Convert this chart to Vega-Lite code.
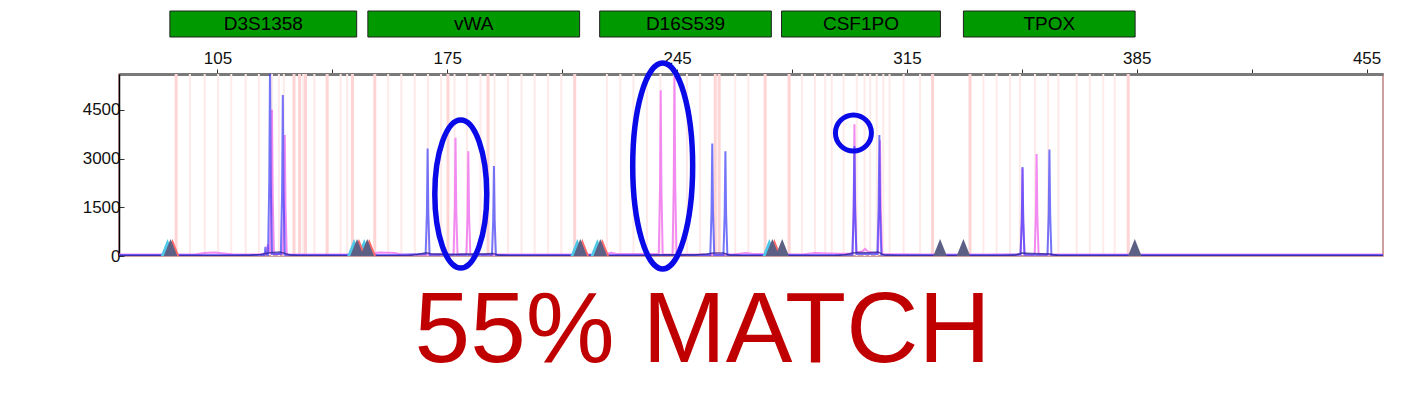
{
  "$schema": "https://vega.github.io/schema/vega-lite/v6.json",
  "padding": {"left": 81, "top": 10, "right": 0, "bottom": 0},
  "autosize": {"type": "pad"},
  "config": {"font": "Liberation Sans", "view": {"stroke": null}},
  "title": {"text": "55% MATCH", "orient": "bottom", "anchor": "middle", "fontSize": 100, "fontWeight": "normal", "color": "#c00000", "font": "Liberation Sans", "offset": 2, "dx": -30},
  "spacing": 10,
  "resolve": {"scale": {"x": "independent"}},
  "datasets": {
    "loci": [
      {"locus": "D3S1358", "start": 90.5, "end": 147.4, "mid": 118.95},
      {"locus": "vWA", "start": 150.8, "end": 215.3, "mid": 183.05},
      {"locus": "D16S539", "start": 221.4, "end": 273.7, "mid": 247.55},
      {"locus": "CSF1PO", "start": 276.8, "end": 325.2, "mid": 301.0},
      {"locus": "TPOX", "start": 332.2, "end": 384.5, "mid": 358.35}
    ],
    "bins": [
      {"bp": 92.4, "kind": "edge"}, {"bp": 96.6, "kind": "bin"}, {"bp": 101.1, "kind": "bin"}, {"bp": 105.2, "kind": "bin"}, {"bp": 109.2, "kind": "bin"}, {"bp": 113.6, "kind": "bin"}, {"bp": 117.6, "kind": "bin"}, {"bp": 121.6, "kind": "bin"}, {"bp": 123.7, "kind": "bin"}, {"bp": 125.2, "kind": "bin"}, {"bp": 128.3, "kind": "edge"}, {"bp": 130.0, "kind": "edge"}, {"bp": 131.1, "kind": "bin"}, {"bp": 131.8, "kind": "edge"}, {"bp": 134.5, "kind": "bin"}, {"bp": 138.4, "kind": "edge"}, {"bp": 142.5, "kind": "bin"}, {"bp": 144.5, "kind": "bin"}, {"bp": 146.1, "kind": "edge"},
      {"bp": 152.9, "kind": "edge"}, {"bp": 157.0, "kind": "bin"}, {"bp": 161.0, "kind": "bin"}, {"bp": 165.1, "kind": "bin"}, {"bp": 169.1, "kind": "bin"}, {"bp": 173.1, "kind": "bin"}, {"bp": 175.2, "kind": "edge"}, {"bp": 177.2, "kind": "bin"}, {"bp": 181.0, "kind": "bin"}, {"bp": 185.1, "kind": "bin"}, {"bp": 187.4, "kind": "edge"}, {"bp": 189.4, "kind": "bin"}, {"bp": 193.5, "kind": "bin"}, {"bp": 197.6, "kind": "bin"}, {"bp": 201.6, "kind": "bin"}, {"bp": 205.7, "kind": "bin"}, {"bp": 209.7, "kind": "bin"}, {"bp": 213.8, "kind": "edge"},
      {"bp": 223.6, "kind": "bin"}, {"bp": 227.7, "kind": "bin"}, {"bp": 231.7, "kind": "bin"}, {"bp": 235.8, "kind": "bin"}, {"bp": 239.9, "kind": "bin"}, {"bp": 244.0, "kind": "bin"}, {"bp": 248.0, "kind": "bin"}, {"bp": 252.0, "kind": "bin"}, {"bp": 256.6, "kind": "edge"}, {"bp": 257.8, "kind": "edge"}, {"bp": 262.7, "kind": "bin"}, {"bp": 266.7, "kind": "bin"}, {"bp": 271.8, "kind": "edge"},
      {"bp": 279.1, "kind": "edge"}, {"bp": 283.0, "kind": "bin"}, {"bp": 287.0, "kind": "bin"}, {"bp": 290.1, "kind": "bin"}, {"bp": 292.1, "kind": "bin"}, {"bp": 295.7, "kind": "bin"}, {"bp": 299.7, "kind": "bin"}, {"bp": 302.1, "kind": "bin"}, {"bp": 303.8, "kind": "bin"}, {"bp": 305.8, "kind": "bin"}, {"bp": 307.8, "kind": "bin"}, {"bp": 309.7, "kind": "bin"}, {"bp": 314.0, "kind": "bin"}, {"bp": 319.0, "kind": "bin"}, {"bp": 322.8, "kind": "edge"},
      {"bp": 334.2, "kind": "edge"}, {"bp": 338.3, "kind": "bin"}, {"bp": 342.3, "kind": "bin"}, {"bp": 346.4, "kind": "bin"}, {"bp": 349.4, "kind": "bin"}, {"bp": 354.0, "kind": "bin"}, {"bp": 358.0, "kind": "bin"}, {"bp": 361.1, "kind": "bin"}, {"bp": 366.7, "kind": "bin"}, {"bp": 370.7, "kind": "bin"}, {"bp": 374.8, "kind": "bin"}, {"bp": 378.3, "kind": "bin"}, {"bp": 382.4, "kind": "edge"}
    ],
    "markers": [
      {"bp": 90.7, "dye": "multi"}, {"bp": 147.5, "dye": "multi"}, {"bp": 150.6, "dye": "multi"}, {"bp": 215.5, "dye": "multi"}, {"bp": 221.6, "dye": "multi"}, {"bp": 274.0, "dye": "multi"},
      {"bp": 277.0, "dye": "single"}, {"bp": 325.1, "dye": "single"}, {"bp": 332.2, "dye": "single"}, {"bp": 384.4, "dye": "single"}
    ],
    "pink": [
      {"bp": 75, "v": 50}, {"bp": 98, "v": 50}, {"bp": 101, "v": 90}, {"bp": 104, "v": 110}, {"bp": 107, "v": 80}, {"bp": 110, "v": 50}, {"bp": 117, "v": 50},
      {"bp": 119.8, "v": 60}, {"bp": 120.1, "v": 200}, {"bp": 120.3, "v": 350}, {"bp": 120.55, "v": 150}, {"bp": 121.0, "v": 100},
      {"bp": 121.38, "v": 1800}, {"bp": 121.6, "v": 4500}, {"bp": 121.82, "v": 1800}, {"bp": 122.2, "v": 60},
      {"bp": 124.9, "v": 60}, {"bp": 125.28, "v": 1488}, {"bp": 125.5, "v": 3720}, {"bp": 125.72, "v": 1488}, {"bp": 126.1, "v": 50},
      {"bp": 145, "v": 50}, {"bp": 152, "v": 60}, {"bp": 154, "v": 110}, {"bp": 157, "v": 100}, {"bp": 159, "v": 90}, {"bp": 161, "v": 50},
      {"bp": 176.9, "v": 50}, {"bp": 177.28, "v": 1456}, {"bp": 177.5, "v": 3640}, {"bp": 177.72, "v": 1456}, {"bp": 178.1, "v": 50},
      {"bp": 180.8, "v": 50}, {"bp": 181.18, "v": 1288}, {"bp": 181.4, "v": 3220}, {"bp": 181.62, "v": 1288}, {"bp": 182.0, "v": 50},
      {"bp": 222, "v": 50}, {"bp": 225, "v": 100}, {"bp": 226.5, "v": 60}, {"bp": 236, "v": 60},
      {"bp": 239.4, "v": 60}, {"bp": 239.78, "v": 2040}, {"bp": 240.0, "v": 5100}, {"bp": 240.22, "v": 2040}, {"bp": 240.6, "v": 50},
      {"bp": 243.6, "v": 50}, {"bp": 243.98, "v": 2216}, {"bp": 244.2, "v": 5540}, {"bp": 244.42, "v": 2216}, {"bp": 244.8, "v": 50},
      {"bp": 262, "v": 50}, {"bp": 266, "v": 90}, {"bp": 268, "v": 60}, {"bp": 283, "v": 50}, {"bp": 287, "v": 90}, {"bp": 291, "v": 80}, {"bp": 295, "v": 70},
      {"bp": 298.4, "v": 70}, {"bp": 298.78, "v": 1620}, {"bp": 299.0, "v": 4050}, {"bp": 299.22, "v": 1620}, {"bp": 299.6, "v": 100},
      {"bp": 301.5, "v": 150}, {"bp": 302.3, "v": 220}, {"bp": 303.2, "v": 120},
      {"bp": 306.2, "v": 80}, {"bp": 306.58, "v": 1424}, {"bp": 306.8, "v": 3560}, {"bp": 307.02, "v": 1424}, {"bp": 307.4, "v": 60},
      {"bp": 320, "v": 50},
      {"bp": 349.6, "v": 50}, {"bp": 349.98, "v": 1080}, {"bp": 350.2, "v": 2700}, {"bp": 350.42, "v": 1080}, {"bp": 350.8, "v": 50},
      {"bp": 353.9, "v": 50}, {"bp": 354.28, "v": 1256}, {"bp": 354.5, "v": 3140}, {"bp": 354.72, "v": 1256}, {"bp": 355.1, "v": 50},
      {"bp": 460, "v": 50}
    ],
    "blue": [
      {"bp": 75, "v": 30}, {"bp": 119.2, "v": 30}, {"bp": 119.45, "v": 120}, {"bp": 119.6, "v": 280}, {"bp": 119.75, "v": 120}, {"bp": 120.0, "v": 40},
      {"bp": 120.4, "v": 40}, {"bp": 120.78, "v": 2360}, {"bp": 121.0, "v": 5900}, {"bp": 121.22, "v": 2360}, {"bp": 121.6, "v": 60},
      {"bp": 124.3, "v": 60}, {"bp": 124.68, "v": 1980}, {"bp": 124.9, "v": 4950}, {"bp": 125.12, "v": 1980}, {"bp": 125.5, "v": 40},
      {"bp": 130, "v": 30}, {"bp": 160, "v": 30},
      {"bp": 168.4, "v": 60}, {"bp": 168.78, "v": 1324}, {"bp": 169.0, "v": 3310}, {"bp": 169.22, "v": 1324}, {"bp": 169.6, "v": 40},
      {"bp": 188.6, "v": 40}, {"bp": 188.98, "v": 1108}, {"bp": 189.2, "v": 2770}, {"bp": 189.42, "v": 1108}, {"bp": 189.8, "v": 30},
      {"bp": 200, "v": 30}, {"bp": 250, "v": 30},
      {"bp": 255.1, "v": 30}, {"bp": 255.48, "v": 1384}, {"bp": 255.7, "v": 3460}, {"bp": 255.92, "v": 1384}, {"bp": 256.3, "v": 30},
      {"bp": 259.1, "v": 30}, {"bp": 259.48, "v": 1288}, {"bp": 259.7, "v": 3220}, {"bp": 259.92, "v": 1288}, {"bp": 260.3, "v": 30},
      {"bp": 290, "v": 30},
      {"bp": 298.4, "v": 40}, {"bp": 298.78, "v": 1354}, {"bp": 299.0, "v": 3385}, {"bp": 299.22, "v": 1354}, {"bp": 299.6, "v": 60},
      {"bp": 306.0, "v": 60}, {"bp": 306.38, "v": 1488}, {"bp": 306.6, "v": 3720}, {"bp": 306.82, "v": 1488}, {"bp": 307.2, "v": 40},
      {"bp": 340, "v": 30},
      {"bp": 349.6, "v": 40}, {"bp": 349.98, "v": 1096}, {"bp": 350.2, "v": 2740}, {"bp": 350.42, "v": 1096}, {"bp": 350.8, "v": 40},
      {"bp": 357.8, "v": 40}, {"bp": 358.18, "v": 1312}, {"bp": 358.4, "v": 3280}, {"bp": 358.62, "v": 1312}, {"bp": 359.0, "v": 30},
      {"bp": 460, "v": 30}
    ],
    "navy": [
      {"bp": 75, "v": 10}, {"bp": 110, "v": 10}, {"bp": 115, "v": 25}, {"bp": 118, "v": 50}, {"bp": 119.6, "v": 80}, {"bp": 121, "v": 100}, {"bp": 124, "v": 120}, {"bp": 125.6, "v": 80}, {"bp": 127, "v": 30}, {"bp": 130, "v": 10},
      {"bp": 163, "v": 10}, {"bp": 166, "v": 50}, {"bp": 168.5, "v": 100}, {"bp": 170, "v": 70}, {"bp": 176, "v": 50}, {"bp": 181, "v": 60}, {"bp": 186, "v": 60}, {"bp": 188.8, "v": 80}, {"bp": 190.5, "v": 30}, {"bp": 194, "v": 10},
      {"bp": 235, "v": 10}, {"bp": 238, "v": 30}, {"bp": 243, "v": 40}, {"bp": 250, "v": 30}, {"bp": 254, "v": 60}, {"bp": 256, "v": 90}, {"bp": 259, "v": 90}, {"bp": 261, "v": 30}, {"bp": 265, "v": 10},
      {"bp": 293, "v": 10}, {"bp": 296, "v": 40}, {"bp": 298.6, "v": 90}, {"bp": 300, "v": 110}, {"bp": 303, "v": 100}, {"bp": 306.2, "v": 120}, {"bp": 308, "v": 30}, {"bp": 312, "v": 10},
      {"bp": 345, "v": 10}, {"bp": 348, "v": 30}, {"bp": 350, "v": 90}, {"bp": 353, "v": 80}, {"bp": 356, "v": 70}, {"bp": 358.5, "v": 60}, {"bp": 361, "v": 15}, {"bp": 365, "v": 10}, {"bp": 460, "v": 10}
    ]
  },
  "vconcat": [
    {
      "width": 1264,
      "height": 26,
      "data": {"name": "loci"},
      "layer": [
        {
          "mark": {"type": "rect", "fill": "#009900", "stroke": "#222222", "strokeWidth": 1},
          "encoding": {
            "x": {"field": "start", "type": "quantitative", "scale": {"domain": [75, 460], "nice": false, "zero": false}, "axis": null},
            "x2": {"field": "end"}
          }
        },
        {
          "mark": {"type": "text", "fontSize": 19, "color": "#000000", "font": "Liberation Sans"},
          "encoding": {
            "x": {"field": "mid", "type": "quantitative", "scale": {"domain": [75, 460], "nice": false, "zero": false}, "axis": null},
            "text": {"field": "locus"}
          }
        }
      ]
    },
    {
      "width": 1264,
      "height": 182,
      "view": {"stroke": "#c08080", "strokeWidth": 1.5},
      "layer": [
        {
          "data": {"name": "bins"},
          "mark": {"type": "rule"},
          "encoding": {
            "x": {"field": "bp", "type": "quantitative", "scale": {"domain": [75, 460], "nice": false, "zero": false},
              "axis": {"orient": "top", "values": [105, 140, 175, 210, 245, 280, 315, 350, 385, 420, 455], "labelExpr": "datum.value % 70 == 35 ? datum.label : ''", "title": null, "grid": false, "domainColor": "#7a7a7a", "domainWidth": 3, "tickColor": "#333333", "tickSize": 5, "labelFontSize": 17, "labelPadding": 2, "labelColor": "#111111", "labelFont": "Liberation Sans", "labelFlush": false}},
            "color": {"field": "kind", "type": "nominal", "scale": {"domain": ["bin", "edge"], "range": ["#ffeaea", "#ffd4d4"]}, "legend": null},
            "size": {"field": "kind", "type": "nominal", "scale": {"domain": ["bin", "edge"], "range": [2, 3]}, "legend": null}
          }
        },
        {
          "data": {"name": "pink"},
          "mark": {"type": "line", "color": "#f078f0", "strokeWidth": 2, "opacity": 0.85, "clip": true},
          "encoding": {
            "x": {"field": "bp", "type": "quantitative"},
            "y": {"field": "v", "type": "quantitative", "scale": {"domain": [0, 5600], "nice": false, "zero": true},
              "axis": {"values": [0, 750, 1500, 2250, 3000, 3750, 4500, 5250], "labelExpr": "datum.value % 1500 == 0 ? datum.label : ''", "format": "d", "title": null, "grid": false, "domainColor": "#000000", "domainWidth": 1.5, "tickColor": "#333333", "tickSize": -5, "labelFontSize": 17, "labelPadding": 4, "labelColor": "#111111", "labelFont": "Liberation Sans"}}
          }
        },
        {
          "data": {"name": "blue"},
          "mark": {"type": "line", "color": "#4040f8", "strokeWidth": 2, "opacity": 0.72, "clip": true},
          "encoding": {
            "x": {"field": "bp", "type": "quantitative"},
            "y": {"field": "v", "type": "quantitative"}
          }
        },
        {
          "data": {"name": "navy"},
          "mark": {"type": "line", "color": "#2a2090", "strokeWidth": 1.5, "opacity": 0.75, "clip": true},
          "encoding": {
            "x": {"field": "bp", "type": "quantitative"},
            "y": {"field": "v", "type": "quantitative"}
          }
        },
        {
          "data": {"name": "markers"},
          "transform": [{"filter": "datum.dye == 'multi'"}],
          "mark": {"type": "point", "shape": "M-0.8,0L0,-2L0.8,0Z", "size": 289, "filled": true, "fill": "#4fc8e8", "opacity": 1, "strokeWidth": 0, "xOffset": -3},
          "encoding": {"x": {"field": "bp", "type": "quantitative"}, "y": {"datum": 0}}
        },
        {
          "data": {"name": "markers"},
          "transform": [{"filter": "datum.dye == 'multi'"}],
          "mark": {"type": "point", "shape": "M-0.8,0L0,-2L0.8,0Z", "size": 289, "filled": true, "fill": "#ff6b6b", "opacity": 1, "strokeWidth": 0, "xOffset": 2},
          "encoding": {"x": {"field": "bp", "type": "quantitative"}, "y": {"datum": 0}}
        },
        {
          "data": {"name": "markers"},
          "mark": {"type": "point", "shape": "M-0.8,0L0,-2L0.8,0Z", "size": 289, "filled": true, "fill": "#5b6084", "opacity": 1, "strokeWidth": 0},
          "encoding": {"x": {"field": "bp", "type": "quantitative"}, "y": {"datum": 0}}
        },
        {
          "mark": {"type": "rule", "color": "#ff9a9a", "strokeWidth": 1.5},
          "encoding": {"y": {"datum": 60}}
        },
        {
          "mark": {"type": "rule", "color": "#ff9a9a", "strokeWidth": 1.5},
          "encoding": {"y": {"datum": 5545}}
        },
        {
          "mark": {"type": "rule", "color": "#000000", "strokeWidth": 2},
          "encoding": {"y": {"datum": 0}}
        },
        {
          "data": {"values": [{"bp": 179.1, "v": 1908}]},
          "mark": {"type": "point", "shape": "M-0.351,0A0.351,1,0,1,0,0.351,0A0.351,1,0,1,0,-0.351,0Z", "size": 21904, "filled": false, "stroke": "#0a0ae8", "strokeWidth": 5.5, "opacity": 1},
          "encoding": {"x": {"field": "bp", "type": "quantitative"}, "y": {"field": "v", "type": "quantitative"}}
        },
        {
          "data": {"values": [{"bp": 240.6, "v": 2769}]},
          "mark": {"type": "point", "shape": "M-0.291,0A0.291,1,0,1,0,0.291,0A0.291,1,0,1,0,-0.291,0Z", "size": 42436, "filled": false, "stroke": "#0a0ae8", "strokeWidth": 5.5, "opacity": 1},
          "encoding": {"x": {"field": "bp", "type": "quantitative"}, "y": {"field": "v", "type": "quantitative"}}
        },
        {
          "data": {"values": [{"bp": 298.7, "v": 3785}]},
          "mark": {"type": "point", "shape": "circle", "size": 1296, "filled": false, "stroke": "#0a0ae8", "strokeWidth": 5, "opacity": 1},
          "encoding": {"x": {"field": "bp", "type": "quantitative"}, "y": {"field": "v", "type": "quantitative"}}
        }
      ]
    }
  ]
}
